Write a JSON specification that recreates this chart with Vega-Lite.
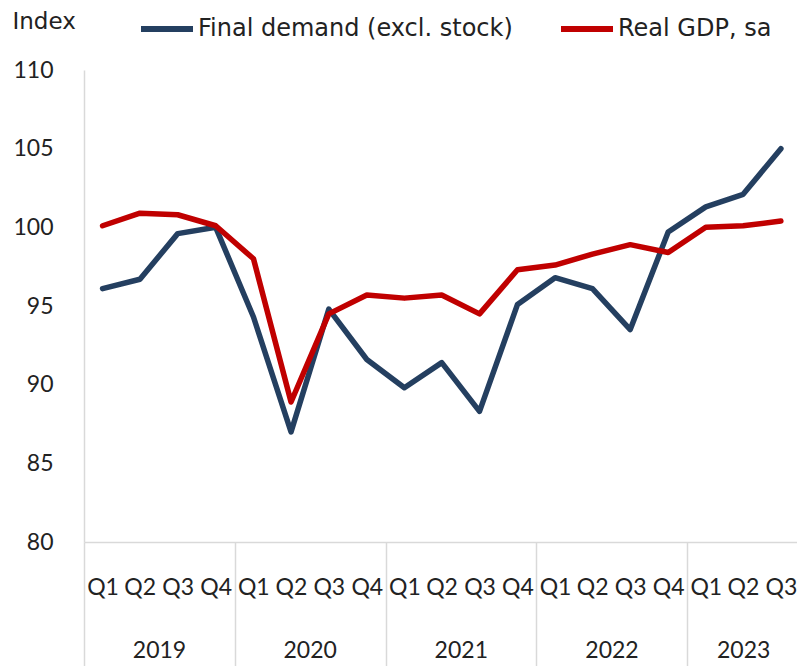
{
  "$schema": "https://vega.github.io/schema/vega-lite/v6.json",
  "width": 713,
  "height": 472,
  "autosize": {"type": "none"},
  "padding": {"top": 70, "left": 84, "right": 0, "bottom": 124},
  "background": "white",
  "config": {"view": {"stroke": null}, "font": "Lato", "axis": {"labelOverlap": false}},
  "data": {
    "values": [
      {"date": "2019-01-01", "series": "Final demand (excl. stock)", "value": 96.1},
      {"date": "2019-04-01", "series": "Final demand (excl. stock)", "value": 96.7},
      {"date": "2019-07-01", "series": "Final demand (excl. stock)", "value": 99.6},
      {"date": "2019-10-01", "series": "Final demand (excl. stock)", "value": 100.0},
      {"date": "2020-01-01", "series": "Final demand (excl. stock)", "value": 94.3},
      {"date": "2020-04-01", "series": "Final demand (excl. stock)", "value": 87.0},
      {"date": "2020-07-01", "series": "Final demand (excl. stock)", "value": 94.8},
      {"date": "2020-10-01", "series": "Final demand (excl. stock)", "value": 91.6},
      {"date": "2021-01-01", "series": "Final demand (excl. stock)", "value": 89.8},
      {"date": "2021-04-01", "series": "Final demand (excl. stock)", "value": 91.4},
      {"date": "2021-07-01", "series": "Final demand (excl. stock)", "value": 88.3},
      {"date": "2021-10-01", "series": "Final demand (excl. stock)", "value": 95.1},
      {"date": "2022-01-01", "series": "Final demand (excl. stock)", "value": 96.8},
      {"date": "2022-04-01", "series": "Final demand (excl. stock)", "value": 96.1},
      {"date": "2022-07-01", "series": "Final demand (excl. stock)", "value": 93.5},
      {"date": "2022-10-01", "series": "Final demand (excl. stock)", "value": 99.7},
      {"date": "2023-01-01", "series": "Final demand (excl. stock)", "value": 101.3},
      {"date": "2023-04-01", "series": "Final demand (excl. stock)", "value": 102.1},
      {"date": "2023-07-01", "series": "Final demand (excl. stock)", "value": 105.0},
      {"date": "2019-01-01", "series": "Real GDP, sa", "value": 100.1},
      {"date": "2019-04-01", "series": "Real GDP, sa", "value": 100.9},
      {"date": "2019-07-01", "series": "Real GDP, sa", "value": 100.8},
      {"date": "2019-10-01", "series": "Real GDP, sa", "value": 100.1},
      {"date": "2020-01-01", "series": "Real GDP, sa", "value": 98.0},
      {"date": "2020-04-01", "series": "Real GDP, sa", "value": 88.9},
      {"date": "2020-07-01", "series": "Real GDP, sa", "value": 94.5},
      {"date": "2020-10-01", "series": "Real GDP, sa", "value": 95.7},
      {"date": "2021-01-01", "series": "Real GDP, sa", "value": 95.5},
      {"date": "2021-04-01", "series": "Real GDP, sa", "value": 95.7},
      {"date": "2021-07-01", "series": "Real GDP, sa", "value": 94.5},
      {"date": "2021-10-01", "series": "Real GDP, sa", "value": 97.3},
      {"date": "2022-01-01", "series": "Real GDP, sa", "value": 97.6},
      {"date": "2022-04-01", "series": "Real GDP, sa", "value": 98.3},
      {"date": "2022-07-01", "series": "Real GDP, sa", "value": 98.9},
      {"date": "2022-10-01", "series": "Real GDP, sa", "value": 98.4},
      {"date": "2023-01-01", "series": "Real GDP, sa", "value": 100.0},
      {"date": "2023-04-01", "series": "Real GDP, sa", "value": 100.1},
      {"date": "2023-07-01", "series": "Real GDP, sa", "value": 100.4}
    ]
  },
  "encoding": {
    "y": {
      "field": "value",
      "type": "quantitative",
      "scale": {"domain": [80, 110], "nice": false, "zero": false},
      "axis": {
        "title": "Index",
        "titleAngle": 0,
        "titleAlign": "left",
        "titleBaseline": "alphabetic",
        "titleX": -72,
        "titleY": -42,
        "titleFont": "DejaVu Sans",
        "titleFontSize": 23,
        "titleFontWeight": "normal",
        "titleColor": "#222222",
        "values": [80, 85, 90, 95, 100, 105, 110],
        "grid": false,
        "ticks": false,
        "domainColor": "#d9d9d9",
        "domainWidth": 1.5,
        "labelFont": "Lato",
        "labelFontSize": 23,
        "labelColor": "#222222",
        "labelPadding": 31
      }
    },
    "color": {
      "field": "series",
      "type": "nominal",
      "scale": {"domain": ["Final demand (excl. stock)", "Real GDP, sa"], "range": ["#243F60", "#C00000"]},
      "legend": {
        "title": null,
        "orient": "none",
        "legendX": 54,
        "legendY": -70,
        "direction": "horizontal",
        "symbolType": "stroke",
        "symbolSize": 2704,
        "symbolStrokeWidth": 6,
        "labelFont": "DejaVu Sans",
        "labelFontSize": 24,
        "labelColor": "#222222",
        "labelLimit": 500,
        "labelOffset": 2,
        "columnPadding": 36
      }
    }
  },
  "layer": [
    {
      "transform": [{"filter": "datum.series == 'Final demand (excl. stock)'"}],
      "mark": {"type": "line", "strokeWidth": 5.5, "strokeCap": "round", "strokeJoin": "round"},
      "encoding": {
        "x": {
          "field": "date",
          "type": "temporal",
          "timeUnit": "utcyearquarter",
          "bandPosition": 0.5,
          "scale": {"domain": [{"year": 2019, "month": 1, "date": 1, "utc": true}, {"year": 2023, "month": 9, "date": 24, "utc": true}], "nice": false},
          "axis": {
            "title": null,
            "orient": "bottom",
            "values": [
              {"year": 2019, "month": 2, "date": 15, "utc": true},
              {"year": 2019, "month": 5, "date": 16, "utc": true},
              {"year": 2019, "month": 8, "date": 16, "utc": true},
              {"year": 2019, "month": 11, "date": 16, "utc": true},
              {"year": 2020, "month": 2, "date": 15, "utc": true},
              {"year": 2020, "month": 5, "date": 16, "utc": true},
              {"year": 2020, "month": 8, "date": 16, "utc": true},
              {"year": 2020, "month": 11, "date": 16, "utc": true},
              {"year": 2021, "month": 2, "date": 15, "utc": true},
              {"year": 2021, "month": 5, "date": 16, "utc": true},
              {"year": 2021, "month": 8, "date": 16, "utc": true},
              {"year": 2021, "month": 11, "date": 16, "utc": true},
              {"year": 2022, "month": 2, "date": 15, "utc": true},
              {"year": 2022, "month": 5, "date": 16, "utc": true},
              {"year": 2022, "month": 8, "date": 16, "utc": true},
              {"year": 2022, "month": 11, "date": 16, "utc": true},
              {"year": 2023, "month": 2, "date": 15, "utc": true},
              {"year": 2023, "month": 5, "date": 16, "utc": true},
              {"year": 2023, "month": 8, "date": 16, "utc": true}
            ],
            "labelExpr": "'Q' + utcFormat(datum.value, '%q')",
            "ticks": false,
            "grid": false,
            "domain": true,
            "domainColor": "#d9d9d9",
            "domainWidth": 1.5,
            "labelFont": "Lato",
            "labelFontSize": 23,
            "labelColor": "#222222",
            "labelOverlap": false,
            "labelFlush": false,
            "labelBound": false,
            "labelPadding": 34
          }
        }
      }
    },
    {
      "transform": [{"filter": "datum.series == 'Real GDP, sa'"}],
      "mark": {"type": "line", "strokeWidth": 5.5, "strokeCap": "round", "strokeJoin": "round"},
      "encoding": {
        "x": {
          "field": "date",
          "type": "temporal",
          "timeUnit": "utcyearquarter",
          "bandPosition": 0.5,
          "scale": {"domain": [{"year": 2019, "month": 1, "date": 1, "utc": true}, {"year": 2023, "month": 9, "date": 24, "utc": true}], "nice": false},
          "axis": {
            "title": null,
            "orient": "bottom",
            "values": [
              {"year": 2019, "month": 1, "date": 1, "utc": true},
              {"year": 2020, "month": 1, "date": 1, "utc": true},
              {"year": 2021, "month": 1, "date": 1, "utc": true},
              {"year": 2022, "month": 1, "date": 1, "utc": true},
              {"year": 2023, "month": 1, "date": 1, "utc": true}
            ],
            "labelExpr": "utcFormat(datum.value, '%Y')",
            "labelFont": "Lato",
            "labelFontSize": 23,
            "labelColor": "#222222",
            "labelOverlap": false,
            "labelFlush": false,
            "labelBound": false,
            "labelPadding": -27,
            "labelOffset": {"condition": {"test": "utcyear(datum.value) == 2023", "value": 56}, "value": 75},
            "domain": false,
            "grid": false,
            "ticks": true,
            "tickSize": 124,
            "tickColor": "#d9d9d9",
            "tickWidth": 1.5
          }
        }
      }
    }
  ],
  "resolve": {"axis": {"x": "independent"}}
}
